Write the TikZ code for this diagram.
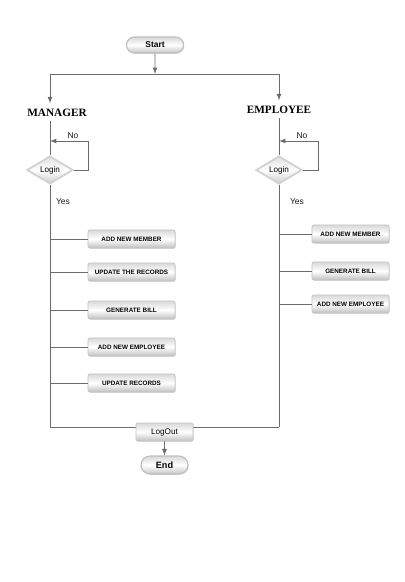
\documentclass[tikz,border=0pt]{standalone}
\usepackage{fontspec}
\setmainfont{Liberation Sans}
\newfontfamily\rolefont{Liberation Serif}
\usepackage{tikz}
\usetikzlibrary{shapes.geometric,shapes.misc,shadows}

\begin{document}
\begin{tikzpicture}[x=0.025cm,y=-0.025cm,>=latex,
  line/.style={draw=gray!85!black,line width=0.6pt},
  terminal/.style={rounded rectangle,draw=gray!50,line width=0.8pt,
    top color=gray!30,bottom color=gray!45,middle color=white,
    minimum width=1.425cm,minimum height=0.4cm,inner sep=0pt,
    font=\fontsize{6}{7}\selectfont\bfseries,
    drop shadow={shadow xshift=0.6pt,shadow yshift=-0.6pt,opacity=0.25}},
  task/.style={rectangle,rounded corners=1.5pt,draw=gray!45,line width=0.6pt,
    top color=gray!30,bottom color=gray!50,middle color=white,
    minimum height=0.45cm,inner sep=0pt,
    font=\fontsize{4.5}{5}\selectfont\bfseries,
    drop shadow={shadow xshift=0.6pt,shadow yshift=-0.6pt,opacity=0.25}},
  decision/.style={diamond,aspect=1.64,inner sep=0pt,
    minimum width=1.15cm,minimum height=0.7cm,
    draw=gray!35,line width=1.3pt,
    top color=gray!25,bottom color=gray!40,middle color=white,
    font=\fontsize{5.8}{6.5}\selectfont},
  role/.style={inner sep=1pt,font=\rolefont\fontsize{8}{9}\selectfont\bfseries},
  lbl/.style={inner sep=0.5pt,text=gray!20!black,font=\fontsize{6}{7}\selectfont}]
\useasboundingbox (0,0) rectangle (405,582);

% Start and split
\node[terminal] (start) at (155,45) {Start};
\coordinate (split) at (155,74);
\coordinate (msplit) at (50,74);
\coordinate (esplit) at (279,74);
\draw[line] (msplit) -- (esplit);
\draw[line,->] (start) -- (split);

% Roles
\node[role] (mgr) at (57,113) {MANAGER};
\node[role] (emp) at (279,110) {EMPLOYEE};
\draw[line,->,shorten >=3pt] (msplit) -- (msplit |- mgr.north);
\draw[line,->,shorten >=3pt] (esplit) -- (esplit |- emp.north);

% Manager branch
\node[decision] (mlogin) at (50,170) {Login};
\draw[line,shorten <=2pt] (mgr.south -| mlogin) -- (mlogin);
\coordinate (mno) at (88,141);
\draw[line,->] (mlogin.east) -| (mno) -- (mno -| mlogin);
\node[lbl] (mnolbl) at (73,136) {No};
\node[lbl] (myes) at (63,202) {Yes};
\coordinate (mbot) at (50,427);
\draw[line] (mlogin) -- (mbot);

\node[task,minimum width=2.175cm] (m1) at (131.5,239) {ADD NEW MEMBER};
\node[task,minimum width=2.175cm] (m2) at (131.5,272) {UPDATE THE RECORDS};
\node[task,minimum width=2.175cm] (m3) at (131.5,310) {GENERATE BILL};
\node[task,minimum width=2.175cm] (m4) at (131.5,347) {ADD NEW EMPLOYEE};
\node[task,minimum width=2.175cm] (m5) at (131.5,383) {UPDATE RECORDS};
\foreach \n in {m1,m2,m3,m4,m5}
  \draw[line] (\n.west -| mlogin) -- (\n.west);

% Employee branch
\node[decision] (elogin) at (279,170) {Login};
\draw[line,shorten <=2pt] (emp.south -| elogin) -- (elogin);
\coordinate (eno) at (318,141);
\draw[line,->] (elogin.east) -| (eno) -- (eno -| elogin);
\node[lbl] (enolbl) at (302,136) {No};
\node[lbl] (eyes) at (297,202) {Yes};
\coordinate (ebot) at (279,427);
\draw[line] (elogin) -- (ebot);

\node[task,minimum width=1.925cm] (e1) at (350.5,234) {ADD NEW MEMBER};
\node[task,minimum width=1.925cm] (e2) at (350.5,271) {GENERATE BILL};
\node[task,minimum width=1.925cm] (e3) at (350.5,304) {ADD NEW EMPLOYEE};
\foreach \n in {e1,e2,e3}
  \draw[line] (\n.west -| elogin) -- (\n.west);

% Log out and end
\draw[line] (mbot) -- (ebot);
\node[task,minimum width=1.425cm,font=\fontsize{5.8}{6.5}\selectfont] (logout) at (164.5,432) {LogOut};
\node[terminal,minimum width=1.175cm,minimum height=0.45cm,font=\fontsize{6.5}{7}\selectfont\bfseries] (end) at (164.5,465) {End};
\draw[line,->] (logout) -- (end);

\end{tikzpicture}
\end{document}
